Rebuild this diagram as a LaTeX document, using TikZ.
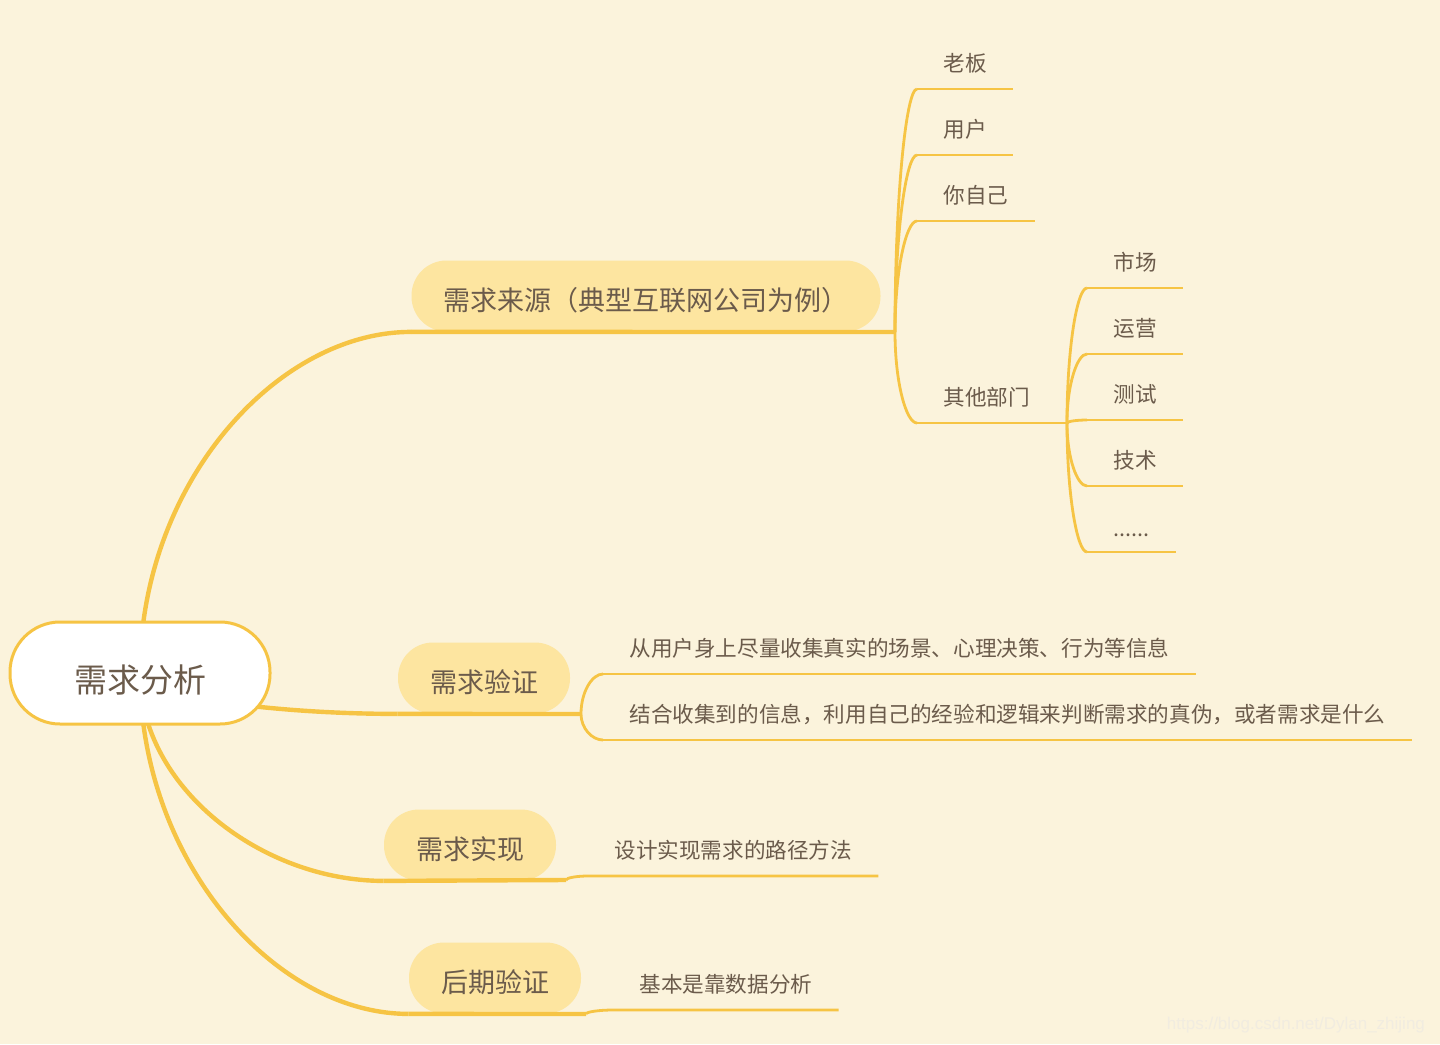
\documentclass[tikz,border=0pt]{standalone}
\usepackage{fontspec}
\setmainfont{Noto Sans CJK SC}
\newfontfamily\markfont{Liberation Sans}
\usepackage{xcolor}
\usetikzlibrary{positioning,calc}
\definecolor{MapBack}{HTML}{FBF3DC}
\definecolor{MapLine}{HTML}{F6C444}
\definecolor{MapPill}{HTML}{FDE5A0}
\definecolor{MapText}{HTML}{6B5B4B}
\definecolor{MapMark}{HTML}{F1ECE0}
\pgfdeclarelayer{back}
\pgfdeclarelayer{wires}
\pgfsetlayers{back,wires,main}

\begin{document}
\begin{tikzpicture}[
  x=0.5pt, y=-0.5pt,
  rootbox/.style={draw=MapLine, line width=1.5pt, fill=white, rounded corners=25pt,
    minimum width=130pt, minimum height=51pt, text height=20.5pt, text depth=1pt,
    text=MapText, font=\fontsize{16.5}{20}\selectfont},
  topic/.style={fill=MapPill, rounded corners=17.5pt, minimum height=35.5pt, inner xsep=16pt,
    text height=15.5pt, text depth=1pt, text=MapText, font=\fontsize{13.5}{16}\selectfont},
  leaf/.style={anchor=south west, inner xsep=13pt, inner ysep=7.5pt, text=MapText,
    font=\fontsize{10.8}{13}\selectfont},
  trunk/.style={MapLine, line width=2.2pt},
  twig/.style={MapLine, line width=1.4pt},
  mindcurve/.style={to path={.. controls ($(\tikztostart)!0.55!(\tikztostart|-\tikztotarget)$)
    and ($(\tikztostart|-\tikztotarget)!0.5!(\tikztotarget)$) .. (\tikztotarget)}}
]
\begin{pgfonlayer}{back}
  \fill[MapBack] (0,0) rectangle (1440,1044);
\end{pgfonlayer}
\useasboundingbox (0,0) rectangle (1440,1044);

\node[rootbox] (root) at (140,673) {需求分析};
\node[topic] (src) at (646,296) {需求来源（典型互联网公司为例）};
\node[topic] (check) at (484,678) {需求验证};
\node[topic] (build) at (470,845) {需求实现};
\node[topic] (later) at (495,978) {后期验证};

\coordinate (srcfork) at (895,332);
\coordinate (checkfork) at (581,714);
\coordinate (buildfork) at (566,880);
\coordinate (laterfork) at (586,1014);
\coordinate (deptfork) at (1067,423);

% sources
\node[leaf] (boss) at (917,89) {老板};
\node[leaf] (user) at (917,155) {用户};
\node[leaf] (self) at (917,221) {你自己};
\node[leaf] (dept) at (917,423) {其他部门};
\node[leaf] (market) at (1087,288) {市场};
\node[leaf] (ops) at (1087,354) {运营};
\node[leaf] (qa) at (1087,420) {测试};
\node[leaf] (tech) at (1087,486) {技术};
\node[leaf] (more) at (1087,552) {......};

% verification, building, later
\node[leaf] (collect) at (603,674) {从用户身上尽量收集真实的场景、心理决策、行为等信息};
\node[leaf] (judge) at (603,740) {结合收集到的信息，利用自己的经验和逻辑来判断需求的真伪，或者需求是什么};
\node[leaf] (path) at (588,876) {设计实现需求的路径方法};
\node[leaf] (data) at (613,1010) {基本是靠数据分析};

\node[anchor=east, text=MapMark, font=\markfont\fontsize{8.5}{10}\selectfont] (mark) at (1432,1025) {https://blog.csdn.net/Dylan\_zhijing};

\begin{pgfonlayer}{wires}
  \foreach \t in {src,check,build,later}
    \draw[trunk] (root.center) to[mindcurve] (\t.south west);
\end{pgfonlayer}

\foreach \t/\f in {src/srcfork,check/checkfork,build/buildfork,later/laterfork}
  \draw[trunk] (\t.south west) -- (\f);

\foreach \n in {boss,user,self,dept}
  \draw[twig] (srcfork) to[mindcurve] (\n.south west);
\foreach \n in {boss,user,self}
  \draw[twig] (\n.south west) -- (\n.south east);
\draw[twig] (dept.south west) -- (deptfork);

\foreach \n in {market,ops,qa,tech,more}{
  \draw[twig] (deptfork) to[mindcurve] (\n.south west);
  \draw[twig] (\n.south west) -- (\n.south east);
}

\foreach \n in {collect,judge}{
  \draw[twig] (checkfork) to[mindcurve] (\n.south west);
  \draw[twig] (\n.south west) -- (\n.south east);
}

\draw[twig] (buildfork) to[mindcurve] (path.south west) -- (path.south east);
\draw[twig] (laterfork) to[mindcurve] (data.south west) -- (data.south east);
\end{tikzpicture}
\end{document}
